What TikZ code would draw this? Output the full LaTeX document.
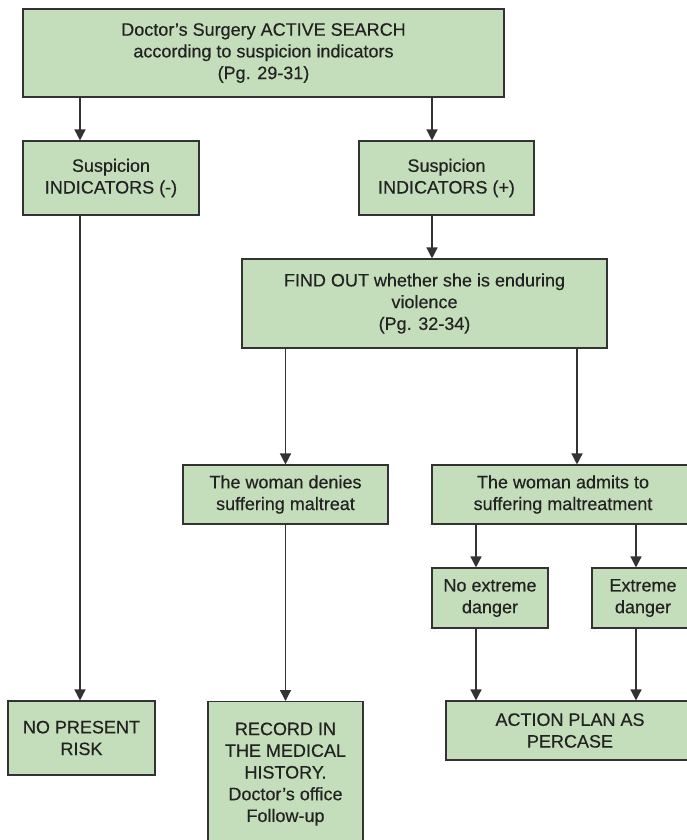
\documentclass[tikz,border=0pt]{standalone}
\usepackage{fontspec}
\setmainfont{Liberation Sans}
\newfontfamily\medfont{Liberation Sans}[FakeBold=0.35]
\usetikzlibrary{arrows.meta}
\definecolor{boxfill}{HTML}{C4DDBB}
\definecolor{boxline}{HTML}{333333}
\definecolor{txt}{HTML}{222222}
\tikzset{
  flowbox/.style={draw=boxline, fill=boxfill, line width=1.1pt, rectangle,
    align=center, inner sep=0pt, text=txt,
    font=\medfont\fontsize{18}{21.7}\selectfont},
  arr/.style={draw=boxline, line width=1.4pt, -{Triangle[length=11pt,width=11pt]}}
}
\begin{document}
\begin{tikzpicture}[x=1pt,y=-1pt]
\useasboundingbox (0,0) rectangle (687,840);
\clip (0,0) rectangle (687,840);
\node[flowbox, minimum width=481pt, minimum height=88pt] (top) at (263.5,53)
  {Doctor’s Surgery ACTIVE SEARCH\\according to suspicion indicators\\(Pg. 29-31)};
\node[flowbox, minimum width=176pt, minimum height=74pt] (neg) at (111,178)
  {Suspicion\\INDICATORS (-)};
\node[flowbox, minimum width=175pt, minimum height=74pt] (pos) at (446.5,178)
  {Suspicion\\INDICATORS (+)};
\node[flowbox, minimum width=365pt, minimum height=89pt] (find) at (424.5,303.5)
  {FIND OUT whether she is enduring\\violence\\(Pg. 32-34)};
\node[flowbox, minimum width=205pt, minimum height=59pt] (denies) at (285.5,494.5)
  {The woman denies\\suffering maltreat};
\node[flowbox, minimum width=262pt, minimum height=59pt] (admits) at (563,494.5)
  {The woman admits to\\suffering maltreatment};
\node[flowbox, minimum width=116pt, minimum height=60pt] (noext) at (490,598)
  {No extreme\\danger};
\node[flowbox, minimum width=102pt, minimum height=60pt] (ext) at (643,598)
  {Extreme\\danger};
\node[flowbox, minimum width=147pt, minimum height=74pt] (norisk) at (81.5,738)
  {NO PRESENT\\RISK};
\node[flowbox, minimum width=155pt, inner ysep=21pt, anchor=north] (record) at (285.5,701)
  {RECORD IN\\THE MEDICAL\\HISTORY.\\Doctor’s office\\Follow-up};
\node[flowbox, minimum width=248pt, minimum height=59pt] (action) at (570,730.5)
  {ACTION PLAN AS\\PERCASE};

\draw[arr] ([xshift=-31pt]neg.north |- top.south) -- ([xshift=-31pt]neg.north);
\draw[arr] ([xshift=-14.5pt]pos.north |- top.south) -- ([xshift=-14.5pt]pos.north);
\draw[arr] ([xshift=-14.5pt]pos.south) -- ([xshift=-14.5pt]pos.south |- find.north);
\draw[arr] ([xshift=-31pt]neg.south) -- ([xshift=-31pt]neg.south |- norisk.north);
\draw[arr] (denies.north |- find.south) -- (denies.north);
\draw[arr] ([xshift=14pt]admits.north |- find.south) -- ([xshift=14pt]admits.north);
\draw[arr] ([xshift=-14pt]noext.north |- admits.south) -- ([xshift=-14pt]noext.north);
\draw[arr] ([xshift=-7pt]ext.north |- admits.south) -- ([xshift=-7pt]ext.north);
\draw[arr] ([xshift=-14pt]noext.south) -- ([xshift=-14pt]noext.south |- action.north);
\draw[arr] ([xshift=-7pt]ext.south) -- ([xshift=-7pt]ext.south |- action.north);
\draw[arr] (denies.south) -- (denies.south |- record.north);
\end{tikzpicture}
\end{document}
